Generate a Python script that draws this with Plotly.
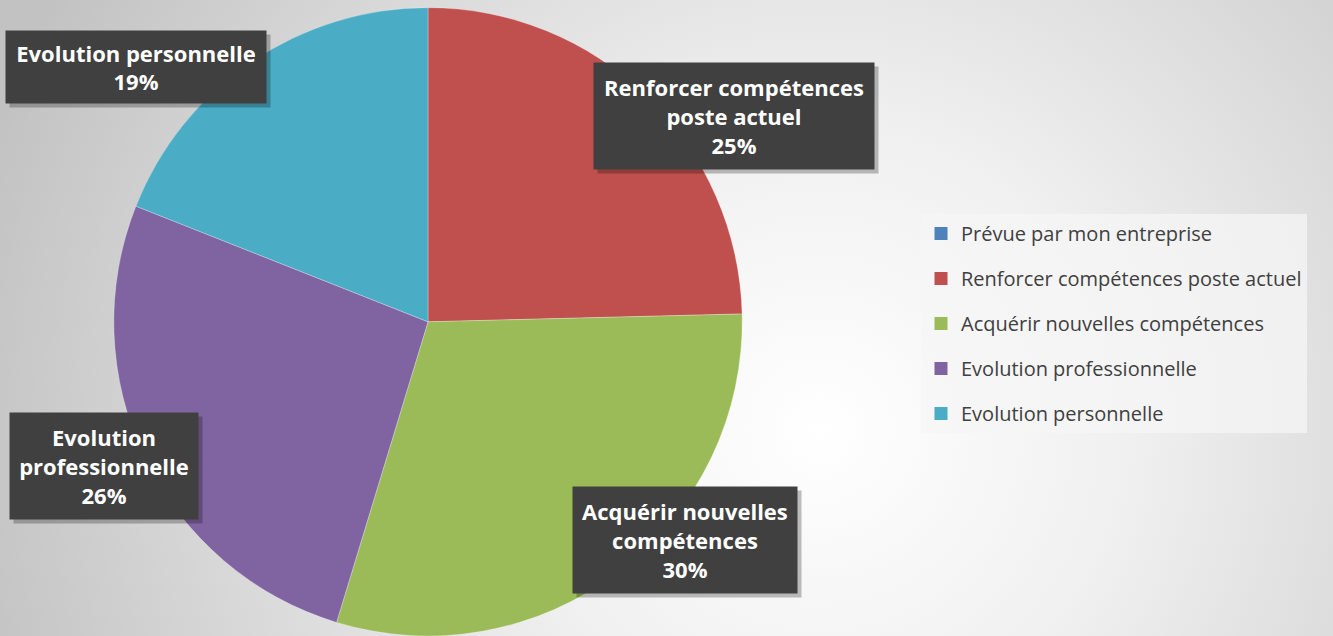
import base64
import plotly.graph_objects as go

# ---- data ----
categories = [
    "Prévue par mon entreprise",
    "Renforcer compétences poste actuel",
    "Acquérir nouvelles compétences",
    "Evolution professionnelle",
    "Evolution personnelle",
]
values = [0.0, 24.6, 30.1, 26.3, 19.0]
label_lines = [
    None,
    ["Renforcer compétences", "poste actuel"],
    ["Acquérir nouvelles", "compétences"],
    ["Evolution", "professionnelle"],
    ["Evolution personnelle"],
]
colors = ["#4F81BD", "#C0504D", "#9BBB59", "#8064A2", "#4BACC6"]

W, H = 1333, 636
FONT = "Open Sans"

# label box geometry (pixel centre x, centre y, width, height)
boxes = [
    None,
    (734, 116, 280, 106),
    (685, 540, 224, 106),
    (104, 466, 188, 106),
    (136, 67, 260, 72),
]

fig = go.Figure()

fig.add_trace(go.Pie(
    labels=categories,
    values=values,
    sort=False,
    direction="clockwise",
    rotation=0,
    marker=dict(colors=colors, line=dict(color="rgba(255,255,255,0.35)", width=0.8)),
    textinfo="none",
    hoverinfo="label+percent",
    showlegend=False,
    domain=dict(x=[(428 - 315) / W, (428 + 315) / W], y=[0, 0.988]),
))

# legend entries (one group each so the spacing can be set)
for i, (c, col) in enumerate(zip(categories, colors)):
    fig.add_trace(go.Scatter(
        x=[None], y=[None], mode="markers", name=c,
        marker=dict(symbol="square", size=13, color=col),
        legendgroup=f"g{i}", showlegend=True, hoverinfo="skip",
    ))

total = sum(values)
annotations = []
for i, c in enumerate(categories):
    if boxes[i] is None or values[i] == 0:
        continue
    cx, cy, bw, bh = boxes[i]
    pct = round(values[i] / total * 100)
    txt = "<br>".join(label_lines[i] + [f"{pct}%"])
    # shadow
    annotations.append(dict(
        x=cx / W, y=1 - cy / H, xref="paper", yref="paper",
        xanchor="center", yanchor="middle", xshift=4, yshift=-4,
        text=" ", showarrow=False, width=bw, height=bh, borderpad=0,
        bgcolor="rgba(0,0,0,0.25)",
    ))
    annotations.append(dict(
        x=cx / W, y=1 - cy / H, xref="paper", yref="paper",
        xanchor="center", yanchor="middle",
        text=f"<b>{txt}</b>", showarrow=False, width=bw, height=bh, borderpad=0,
        bgcolor="#404040", align="center", valign="middle",
        font=dict(family=FONT, size=22, color="#FFFFFF"),
    ))

svg = f"""<svg xmlns='http://www.w3.org/2000/svg' width='{W}' height='{H}' viewBox='0 0 {W} {H}' preserveAspectRatio='none'>
<defs><radialGradient id='g' cx='820' cy='430' r='880' gradientUnits='userSpaceOnUse'>
<stop offset='0' stop-color='#ffffff'/><stop offset='0.35' stop-color='#f0f0f0'/>
<stop offset='0.75' stop-color='#d4d4d4'/><stop offset='1' stop-color='#c2c2c2'/></radialGradient></defs>
<rect width='{W}' height='{H}' fill='url(#g)'/></svg>"""
src = "data:image/svg+xml;base64," + base64.b64encode(svg.encode()).decode()

fig.update_layout(
    width=W, height=H,
    margin=dict(l=0, r=0, t=0, b=0),
    paper_bgcolor="#e6e6e6",
    plot_bgcolor="rgba(0,0,0,0)",
    xaxis=dict(visible=False), yaxis=dict(visible=False),
    images=[dict(source=src, xref="paper", yref="paper", x=0, y=1, sizex=1, sizey=1,
                 xanchor="left", yanchor="top", sizing="stretch", layer="below")],
    annotations=annotations,
    showlegend=True,
    legend=dict(
        x=921 / W, y=1 - 214 / H, xanchor="left", yanchor="top",
        bgcolor="rgba(245,245,245,0.75)", borderwidth=0,
        font=dict(family=FONT, size=20, color="#404040"),
        tracegroupgap=16, itemclick=False, itemdoubleclick=False,
    ),
)

fig.write_html("out.html", config={"displayModeBar": False},
               post_script="document.body.style.margin='0';")
